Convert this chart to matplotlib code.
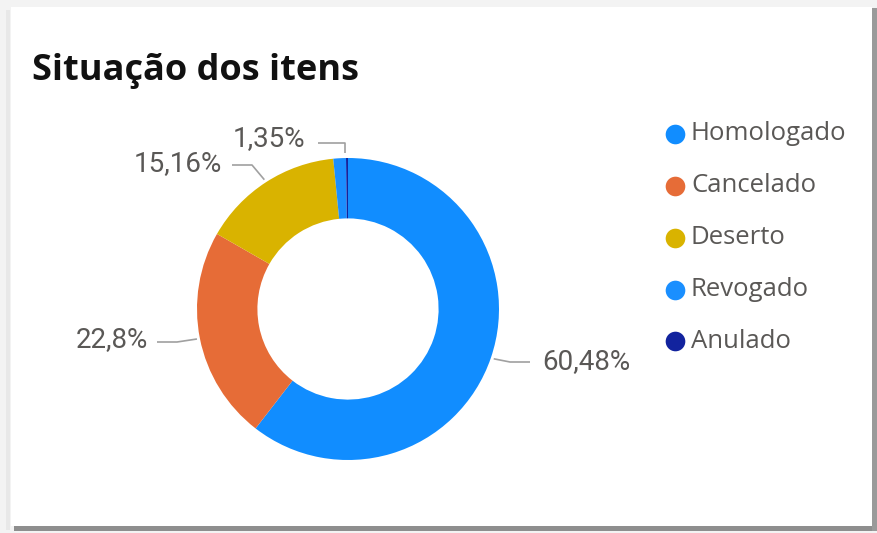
import numpy as np
import matplotlib
matplotlib.use("Agg")
import matplotlib.pyplot as plt
from matplotlib.patches import Rectangle

# ---- data ----
categories = ["Homologado", "Cancelado", "Deserto", "Revogado", "Anulado"]
values = [60.48, 22.8, 15.16, 1.35, 0.21]
labels = ["60,48%", "22,8%", "15,16%", "1,35%", None]
colors = ["#118DFF", "#E66C37", "#D9B300", "#1A8FFF", "#12239E"]
title = "Situação dos itens"

W, H = 878, 533
fig = plt.figure(figsize=(W / 100, H / 100), dpi=100)
fig.patch.set_facecolor("white")
ax = fig.add_axes([0, 0, 1, 1])

def py(y):
    return H - y

# card frame / shadow
ax.add_patch(Rectangle((0, 0), W, H, facecolor="#F3F3F3", edgecolor="none", zorder=0))
ax.add_patch(Rectangle((14, py(531)), 863, 6, facecolor="#8E8E8E", edgecolor="none", zorder=0))
ax.add_patch(Rectangle((872, py(531)), 5, 523, facecolor="#9A9A9A", edgecolor="none", zorder=0))
ax.add_patch(Rectangle((6, py(530)), 4, 520, facecolor="#E8E8E8", edgecolor="none", zorder=0))
ax.add_patch(Rectangle((11, py(526)), 861, 519, facecolor="white", edgecolor="none", zorder=1))

cx, cy, R = 348, py(309), 151
wedges, _ = ax.pie(values, colors=colors, startangle=90, counterclock=False,
                   center=(cx, cy), radius=R,
                   wedgeprops=dict(width=R * 0.4, edgecolor="none", linewidth=0),
                   frame=True)
for w in wedges:
    w.set_zorder(3)

ax.set_xlim(0, W)
ax.set_ylim(0, H)
ax.set_aspect("auto")
ax.axis("off")

# title
ax.text(32, py(71), title, fontsize=26, fontweight="bold", family="Open Sans",
        color="#111111", va="center", ha="left", zorder=5)

lab_color = "#5A5856"
line_color = "#A0A0A0"
# label layout (text position, elbow point, text alignment)
layouts = [
    dict(text=(542, py(362)), elbow=(530, py(362)), ha="left"),
    dict(text=(148, py(340)), elbow=(157, py(342)), ha="right"),
    dict(text=(222, py(164)), elbow=(232, py(165)), ha="right"),
    dict(text=(305, py(139)), elbow=(318, py(143)), ha="right"),
    None,
]
total = sum(values)
cum = 0
for v, lab, lay in zip(values, labels, layouts):
    mid = cum + v / 2
    cum += v
    if lab is None:
        continue
    ang = np.deg2rad(90 - 360 * mid / total)
    ax_, ay_ = cx + (R + 3) * np.cos(ang), cy + (R + 3) * np.sin(ang)
    ex, ey = lay["elbow"]
    if lay["ha"] == "left":
        kx = ex - 20
    else:
        kx = ex + 20
    if lab == "1,35%":
        kx = ax_ + 6
        pts = [(ax_ + 6, ay_ + 2), (kx, ey), (ex, ey)]
    else:
        pts = [(ax_, ay_), (kx, ey), (ex, ey)]
    xs, ys = zip(*pts)
    ax.plot(xs, ys, color=line_color, lw=1.2, zorder=4, solid_capstyle="butt")
    ax.text(lay["text"][0], lay["text"][1], lab, fontsize=20, family="Roboto",
            color=lab_color, ha=lay["ha"], va="center", zorder=5)

# legend
leg_y = [134, 186, 238, 290, 341]
for cat, col, yy in zip(categories, colors, leg_y):
    ax.scatter([675], [py(yy)], s=200, color=col, zorder=5, linewidths=0)
    ax.text(691, py(yy), cat, fontsize=18.5, family="Open Sans", color=lab_color,
            ha="left", va="center", zorder=5)

fig.savefig("out.png", dpi=100, facecolor="white")
